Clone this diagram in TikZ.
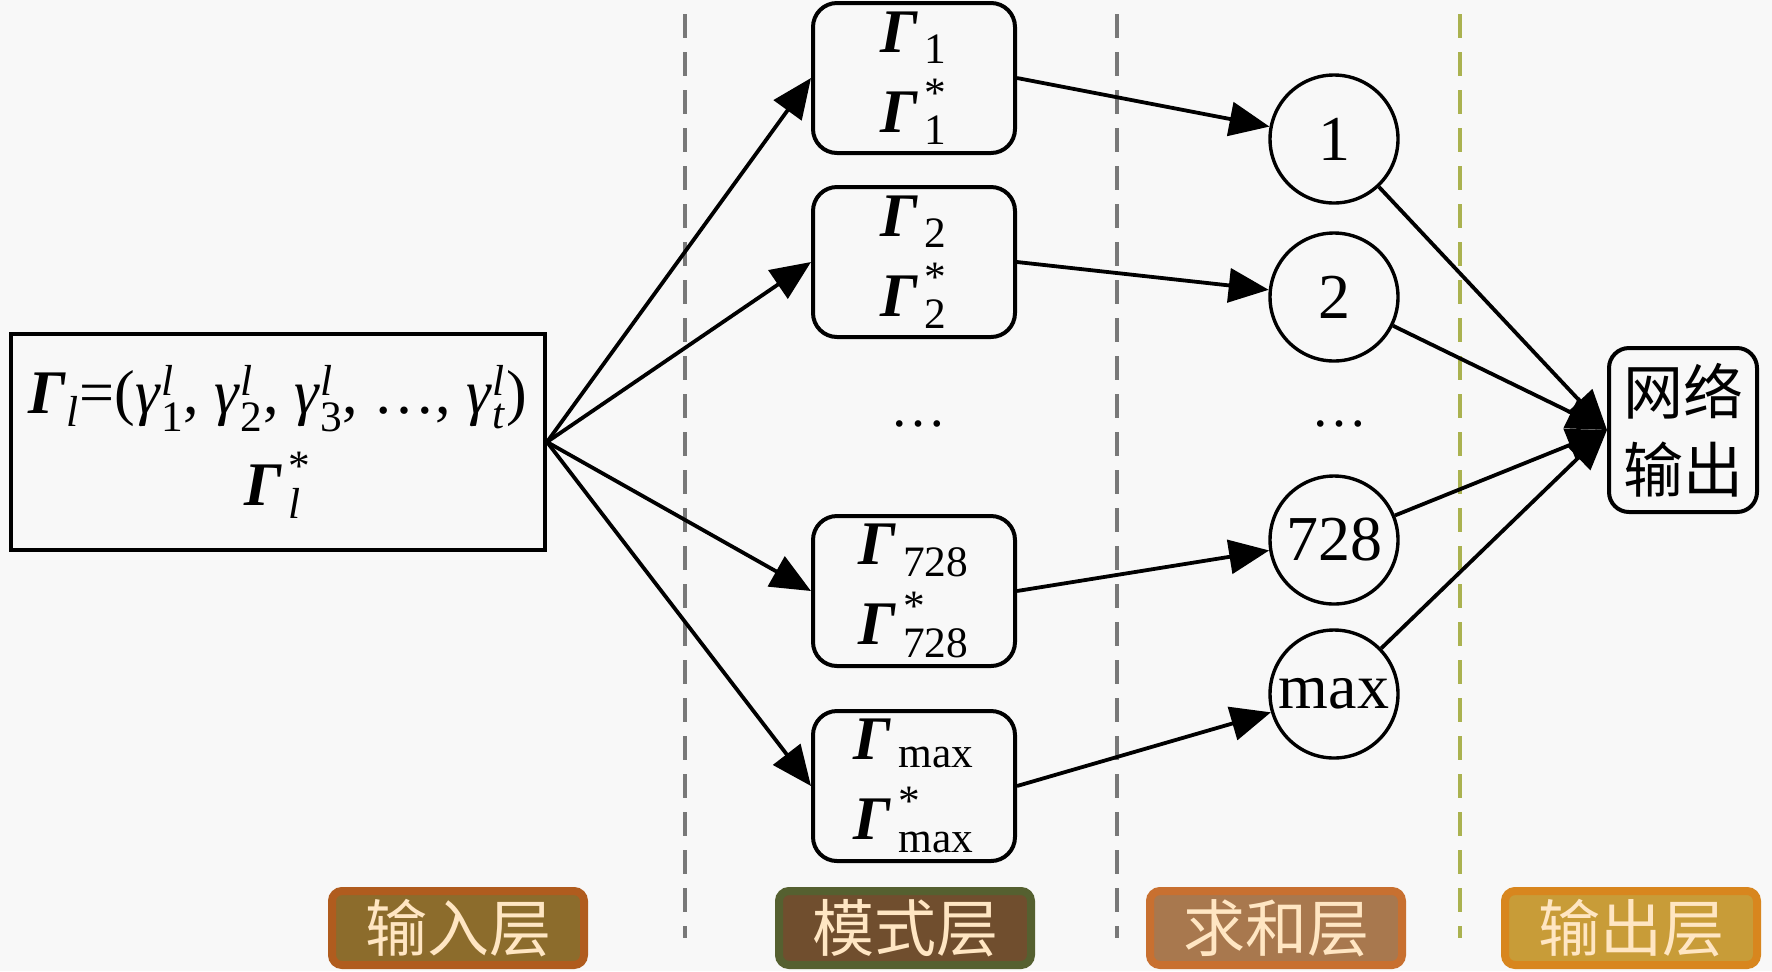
\documentclass[tikz,border=0pt]{standalone}
\usepackage{amsmath}
\usepackage{fontspec}
\setmainfont{Liberation Serif}
\newfontfamily\cjk{Noto Sans CJK SC}
\usetikzlibrary{arrows.meta}
\definecolor{bgcol}{RGB}{248,248,248}
\definecolor{sepgray}{RGB}{120,120,120}
\definecolor{sepolive}{RGB}{170,178,80}
\definecolor{labtxt}{RGB}{255,230,195}
\definecolor{inband}{RGB}{176,92,30}
\definecolor{infill}{RGB}{140,108,44}
\definecolor{patband}{RGB}{85,96,48}
\definecolor{patfill}{RGB}{112,78,46}
\definecolor{sumband}{RGB}{200,112,48}
\definecolor{sumfill}{RGB}{168,120,78}
\definecolor{outband}{RGB}{216,134,30}
\definecolor{outfill}{RGB}{200,156,56}
\newcommand{\BGam}{\textbf{\textit{Γ}}}
\newcommand{\gml}[1]{$\text{\textit{γ}}^{\text{\textit{l}}}_{\text{#1}}$}
\newcommand{\GamSub}[1]{$\text{\BGam}_{\,\text{#1}}$}
\newcommand{\GamStar}[1]{$\text{\BGam}^{\,\text{*}}_{\,\text{#1}}$}
\begin{document}
\begin{tikzpicture}[x=0.5pt,y=0.5pt,yscale=-1,
	inbox/.style={draw,line width=2pt,minimum width=267pt,minimum height=108pt,align=center,font=\fontsize{31}{46}\selectfont},
	patbox/.style={draw,line width=2pt,rounded corners=12pt,minimum width=101pt,minimum height=75pt,align=center,inner sep=0pt,font=\fontsize{31}{40}\selectfont},
	sumnode/.style={draw,circle,line width=1.7pt,minimum size=64pt,inner sep=0pt,font=\fontsize{32}{36}\selectfont},
	outbox/.style={draw,line width=2pt,rounded corners=10pt,minimum width=74pt,minimum height=82pt,align=center,inner sep=1pt,font=\cjk\fontsize{30}{39}\selectfont},
	layerlab/.style={rounded corners=5pt,line width=4pt,minimum width=126pt,minimum height=37pt,inner sep=0pt,text=labtxt,font=\cjk\fontsize{31}{34}\selectfont},
	conn/.style={line width=1.9pt,-{Triangle[length=20pt,width=17pt]}},
	sep/.style={line width=1.6pt,dash pattern=on 12pt off 7pt}]
	\useasboundingbox (0,0) rectangle (1772,971);
	\fill[bgcol] (0,0) rectangle (1772,971);
	%Separators
	\draw[sep,sepgray] (685,14) -- (685,938);
	\draw[sep,sepgray] (1117,14) -- (1117,938);
	\draw[sep,sepolive] (1460,14) -- (1460,938);
	%Input layer
	\node[inbox] (in) at (278,442) {\BGam$_{\text{\textit{l}}}$=(\gml{1}, \gml{2}, \gml{3}, …, \gml{\textit{t}})\\\GamStar{\textit{l}}};
	%Pattern layer
	\node[patbox] (p1) at (914,78) {\GamSub{1}\\\GamStar{1}};
	\node[patbox] (p2) at (914,262) {\GamSub{2}\\\GamStar{2}};
	\node[font=\fontsize{28}{30}\selectfont] (pdots) at (918,424) {…};
	\node[patbox] (p728) at (914,591) {\GamSub{728}\\\GamStar{728}};
	\node[patbox] (pmax) at (914,786) {\GamSub{max}\\\GamStar{max}};
	%Summation layer
	\node[sumnode] (s1) at (1334,139) {1};
	\node[sumnode] (s2) at (1334,297) {2};
	\node[font=\fontsize{28}{30}\selectfont] (sdots) at (1339,424) {…};
	\node[sumnode] (s728) at (1334,540) {728};
	\node[sumnode] (smax) at (1334,694) {max};
	%Output layer
	\node[outbox] (out) at (1683,430) {网络\\输出};
	%Connections
	\foreach \p in {p1,p2,p728,pmax}
		\draw[conn] (in.east) -- (\p.west);
	\draw[conn] (p1.east) -- (s1);
	\draw[conn] (p2.east) -- (s2);
	\draw[conn] (p728.east) -- (s728);
	\draw[conn] (pmax.east) -- (smax);
	\foreach \s in {s1,s2,s728,smax}
		\draw[conn] (\s) -- (out.west);
	%Layer labels
	\node[layerlab,draw=inband,fill=infill] (lin) at (458,928) {输入层};
	\node[layerlab,draw=patband,fill=patfill] (lpat) at (905,928) {模式层};
	\node[layerlab,draw=sumband,fill=sumfill] (lsum) at (1276,928) {求和层};
	\node[layerlab,draw=outband,fill=outfill] (lout) at (1631,928) {输出层};
\end{tikzpicture}
\end{document}
